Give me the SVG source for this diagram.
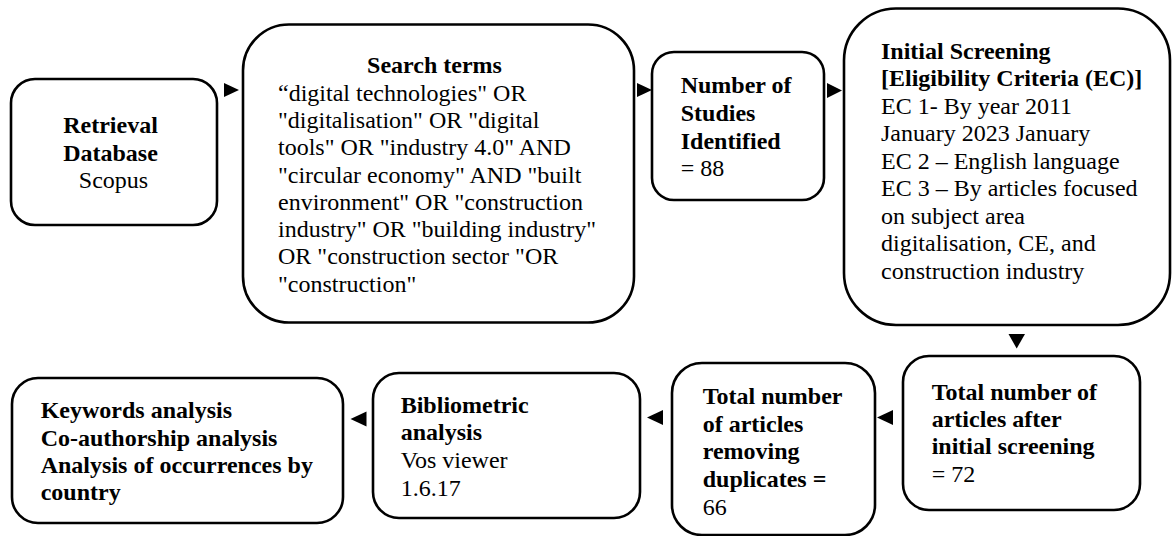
<svg xmlns="http://www.w3.org/2000/svg" width="1173" height="536" viewBox="0 0 1173 536">
  <style>
    .box { fill: #ffffff; stroke: #000000; stroke-width: 2.6; }
    .t { font-size: 24px; fill: #000000; }
    .b { font-weight: bold; }
    .head { fill: #000000; stroke: none; }
  </style>
  <rect x="0" y="0" width="1173" height="536" fill="#ffffff"/>

  <!-- arrowheads between the stages -->
  <g id="connectors">
    <polygon class="head" points="224,83 239,90 224,97"/>
    <polygon class="head" points="637,83 652,90 637,97"/>
    <polygon class="head" points="827,83 842,90.5 827,98"/>
    <polygon class="head" points="1008.5,334 1025,334 1016.7,348.5"/>
    <polygon class="head" points="893,410 877,417.5 893,425"/>
    <polygon class="head" points="663,410 647,417.5 663,425"/>
    <polygon class="head" points="366.5,411.5 350.5,419 366.5,426.5"/>
  </g>

  <g font-family="Liberation Serif, Times New Roman, Times, serif">
  <g id="retrieval-database">
    <rect class="box" x="11" y="79" width="206" height="146" rx="24" ry="24"/>
    <text class="t" text-anchor="middle">
      <tspan class="b" x="113.5" y="133">Retrieval</tspan>
      <tspan class="b" x="113.5" y="160.5">Database</tspan>
      <tspan x="113.5" y="188">Scopus</tspan>
    </text>
  </g>

  <g id="search-terms">
    <rect class="box" x="243" y="24.5" width="391" height="298" rx="46" ry="46"/>
    <text class="t">
      <tspan class="b" x="437.5" y="73.3" text-anchor="middle">Search terms</tspan>
      <tspan x="278" y="100.6">“digital technologies" OR</tspan>
      <tspan x="278" y="127.9">"digitalisation" OR "digital</tspan>
      <tspan x="278" y="155.2">tools" OR "industry 4.0" AND</tspan>
      <tspan x="278" y="182.5">"circular economy" AND "built</tspan>
      <tspan x="278" y="209.8">environment" OR "construction</tspan>
      <tspan x="278" y="237.1">industry" OR "building industry"</tspan>
      <tspan x="278" y="264.4">OR "construction sector "OR</tspan>
      <tspan x="278" y="291.7">"construction"</tspan>
    </text>
  </g>

  <g id="studies-identified">
    <rect class="box" x="652" y="52" width="172" height="148" rx="22" ry="22"/>
    <text class="t">
      <tspan class="b" x="680.7" y="93.3">Number of</tspan>
      <tspan class="b" x="680.7" y="121">Studies</tspan>
      <tspan class="b" x="680.7" y="148.5">Identified</tspan>
      <tspan x="680.7" y="175.5">= 88</tspan>
    </text>
  </g>

  <g id="initial-screening">
    <rect class="box" x="844" y="8.5" width="326" height="316.5" rx="52" ry="52"/>
    <text class="t">
      <tspan class="b" x="881" y="58.5">Initial Screening</tspan>
      <tspan class="b" x="881" y="86">[Eligibility Criteria (EC)]</tspan>
      <tspan x="881" y="113.5">EC 1- By year 2011</tspan>
      <tspan x="881" y="141">January 2023 January</tspan>
      <tspan x="881" y="168.5">EC 2 – English language</tspan>
      <tspan x="881" y="196">EC 3 – By articles focused</tspan>
      <tspan x="881" y="223.5">on subject area</tspan>
      <tspan x="881" y="251">digitalisation, CE, and</tspan>
      <tspan x="881" y="278.5">construction industry</tspan>
    </text>
  </g>

  <g id="after-screening">
    <rect class="box" x="903" y="356" width="237" height="154" rx="26" ry="26"/>
    <text class="t">
      <tspan class="b" x="931.7" y="400">Total number of</tspan>
      <tspan class="b" x="931.7" y="427">articles after</tspan>
      <tspan class="b" x="931.7" y="454">initial screening</tspan>
      <tspan x="931.7" y="481.5">= 72</tspan>
    </text>
  </g>

  <g id="removing-duplicates">
    <rect class="box" x="672" y="363" width="203" height="172" rx="30" ry="30"/>
    <text class="t">
      <tspan class="b" x="702.7" y="404">Total number</tspan>
      <tspan class="b" x="702.7" y="431.5">of articles</tspan>
      <tspan class="b" x="702.7" y="459">removing</tspan>
      <tspan class="b" x="702.7" y="486.5">duplicates =</tspan>
      <tspan x="702.7" y="514.5">66</tspan>
    </text>
  </g>

  <g id="bibliometric-analysis">
    <rect class="box" x="373" y="373" width="267" height="145" rx="26" ry="26"/>
    <text class="t">
      <tspan class="b" x="400.7" y="412.7">Bibliometric</tspan>
      <tspan class="b" x="400.7" y="440">analysis</tspan>
      <tspan x="400.7" y="467.8">Vos viewer</tspan>
      <tspan x="400.7" y="495.5">1.6.17</tspan>
    </text>
  </g>

  <g id="analysis-outputs">
    <rect class="box" x="12" y="378" width="331" height="145" rx="26" ry="26"/>
    <text class="t b">
      <tspan x="40.7" y="418.3">Keywords analysis</tspan>
      <tspan x="40.7" y="445.5">Co-authorship analysis</tspan>
      <tspan x="40.7" y="472.8">Analysis of occurrences by</tspan>
      <tspan x="40.7" y="500">country</tspan>
    </text>
  </g>
  </g>
</svg>
